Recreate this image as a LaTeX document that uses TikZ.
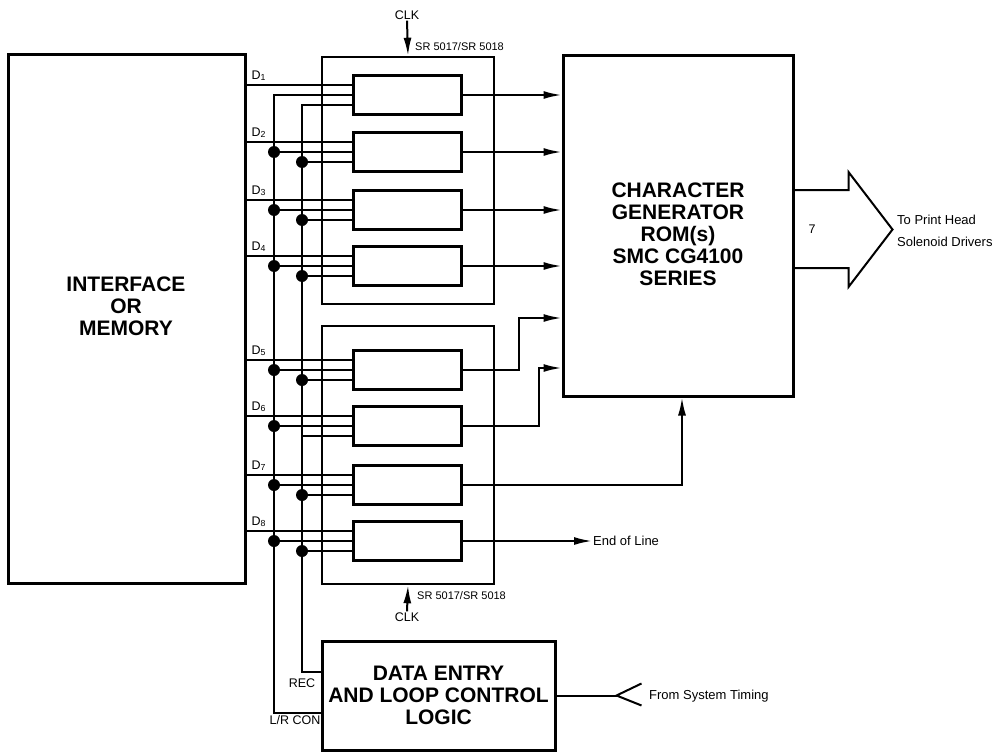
\documentclass[tikz,border=0pt]{standalone}
\usepackage{fontspec}
\setmainfont{Liberation Sans}
\usetikzlibrary{calc, arrows.meta}

\begin{document}
\begin{tikzpicture}[
    x={(1pt,0pt)},
    y={(0pt,-1pt)},
    box/.style={draw, line width=3pt, inner sep=0pt},
    reg/.style={draw, line width=3pt, minimum width=108pt, minimum height=39pt, inner sep=0pt},
    wire/.style={line width=2pt},
    sig/.style={wire, -{Latex[length=18pt,width=8pt]}},
    dot/.style={circle, fill, inner sep=0pt, minimum size=12pt},
    big/.style={font=\fontsize{21}{22}\selectfont\bfseries, align=center},
    lbl/.style={font=\fontsize{12.5}{22}\selectfont, inner sep=1pt},
    tiny/.style={font=\fontsize{11}{13}\selectfont, inner sep=1pt},
    note/.style={font=\fontsize{13}{22}\selectfont, inner sep=1pt, align=left}
]
\useasboundingbox (0,0) rectangle (1001,752);

% --- Bloecke ---
\node[box, minimum width=237pt, minimum height=528pt] (iface) at (126.5,319) {};
\node[big] (ifacetxt) at (126,306) {INTERFACE\\OR\\MEMORY};

\node[box, line width=2.6pt, minimum width=172pt, minimum height=247pt] (sr1) at (408,180.5) {};
\node[box, line width=2.6pt, minimum width=172pt, minimum height=258pt] (sr2) at (408,455) {};

\node[box, minimum width=230pt, minimum height=340pt] (rom) at (678,226) {};
\node[big] (romtxt) at (678,234) {CHARACTER\\GENERATOR\\ROM(s)\\SMC CG4100\\SERIES};

\node[box, big, minimum width=233pt, minimum height=109pt] (dent) at (438.5,695.5)
    {DATA ENTRY\\AND LOOP CONTROL\\LOGIC};

% --- Schieberegister mit Dateneingang D1..D8 ---
\foreach \i/\yy in {1/95, 2/152, 3/210, 4/266, 5/370, 6/426, 7/485, 8/541} {
    \node[reg] (r\i) at (407,\yy) {};
    \coordinate (d\i) at ($(r\i.west)+(0,-10)$);
    \coordinate (c\i) at ($(r\i.west)+(0,10)$);
    \draw[wire] (iface.east |- d\i) -- (d\i);
    \node[lbl, anchor=base west] (dl\i) at ($(iface.east |- d\i)+(4,-6)$) {D\textsubscript{\i}};
}

% --- REC und L/R CON ---
\coordinate (busA) at (274,0);
\coordinate (busB) at (302,0);
\coordinate (lrcon) at ($(dent.west)+(0,17.5)$);
\coordinate (rec) at ($(dent.west)+(0,-23.5)$);
\draw[wire] (r1.west) -- (r1.west -| busA) |- (lrcon);
\draw[wire] (c1) -- (c1 -| busB) |- (rec);
\foreach \i in {2,...,8} {
    \draw[wire] (r\i.west) -- (r\i.west -| busA);
    \draw[wire] (c\i) -- (c\i -| busB);
    \node[dot] (ja\i) at (r\i.west -| busA) {};
}
\foreach \i in {2,3,4,5,7,8}
    \node[dot] (jb\i) at (c\i -| busB) {};
\node[lbl] (reclbl) at (302,683) {REC};
\node[lbl] (lrlbl) at (295,720) {L/R CON};

% --- Ausgaenge zum ROM ---
\foreach \i in {1,...,4}
    \draw[sig] (r\i.east) -- (r\i.east -| rom.west);
\draw[sig] (r5.east) -- ++(56,0) |- ($(rom.west)+(0,92)$);
\draw[sig] (r6.east) -- ++(76,0) |- ($(rom.west)+(0,142)$);
\draw[sig] (r7.east) -| ($(rom.south)+(4,0)$);
\node[note, anchor=west] (eol) at (592,541) {End of Line};
\draw[sig] (r8.east) -- (eol.west);

% --- Takt ---
\node[lbl] (clk1) at (407,15) {CLK};
\draw[sig] (clk1.south) -- (sr1.north);
\node[tiny, anchor=base west] (sr1lbl) at (414,51) {SR 5017/SR 5018};
\node[lbl] (clk2) at (407,617) {CLK};
\draw[sig] (clk2.north) -- (sr2.south);
\node[tiny, anchor=base west] (sr2lbl) at (416,599) {SR 5017/SR 5018};

% --- Ausgang zum Druckkopf ---
\coordinate (bt) at ($(rom.east)+(0,-36)$);
\coordinate (bb) at ($(rom.east)+(0,42)$);
\draw[wire, line join=miter]
    (bt) -- ++(54,0) -- ++(0,-18) -- ++(44,57.5) -- ++(-44,57.5) -- ++(0,-19) -- (bb);
\node[lbl] (nbits) at (812,229) {7};
\node[note, anchor=west] (phead) at (896,231) {To Print Head\\Solenoid Drivers};

% --- Systemtakt ---
\coordinate (tin) at ($(dent.east)+(60,0)$);
\draw[wire] (dent.east) -- (tin);
\draw[wire] ($(tin)+(25,-12)$) -- (tin) -- ($(tin)+(25,10)$);
\node[note, anchor=west] (timing) at (648,696) {From System Timing};

\end{tikzpicture}
\end{document}
